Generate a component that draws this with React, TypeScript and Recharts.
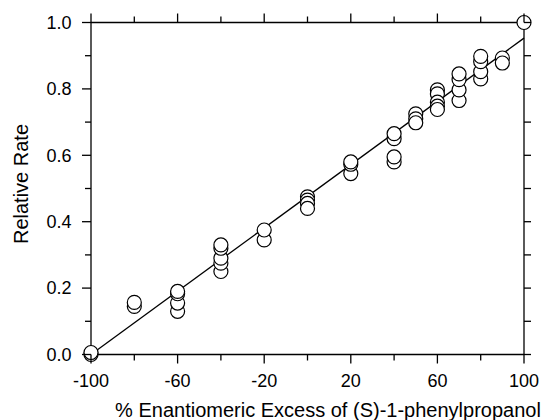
import React from 'react';
import { ScatterChart, Scatter, XAxis, YAxis, Label } from 'recharts';

// % enantiomeric excess levels (x categories)
const eeLevels = [-100, -80, -60, -40, -20, 0, 20, 40, 50, 60, 70, 80, 90, 100];
// relative rates measured at each ee level (same order as eeLevels)
const relativeRates: number[][] = [
  [0.0, 0.006],
  [0.145, 0.157],
  [0.13, 0.155, 0.183, 0.19],
  [0.25, 0.275, 0.29, 0.32, 0.33],
  [0.345, 0.375],
  [0.475, 0.465, 0.455, 0.44],
  [0.545, 0.573, 0.58],
  [0.58, 0.595, 0.65, 0.665],
  [0.725, 0.71, 0.698],
  [0.797, 0.785, 0.76, 0.748, 0.738],
  [0.765, 0.797, 0.828, 0.845],
  [0.83, 0.852, 0.882, 0.898],
  [0.893, 0.878],
  [1.0],
];
// fitted straight line
const fitX = [-100, 100];
const fitY = [0.0, 0.953];

const xTicks = [-100, -80, -60, -40, -20, 0, 20, 40, 60, 80, 100];
const xLabeled = [-100, -60, -20, 20, 60, 100];
const yTicks = [0, 0.1, 0.2, 0.3, 0.4, 0.5, 0.6, 0.7, 0.8, 0.9, 1.0];
const yLabeled = [0, 0.2, 0.4, 0.6, 0.8, 1.0];

const xTitle = '% Enantiomeric Excess of (S)-1-phenylpropanol';
const yTitle = 'Relative Rate';

const points = eeLevels.flatMap((ee, i) => relativeRates[i].map((r) => ({ x: ee, y: r })));
const fitData = fitX.map((x, i) => ({ x, y: fitY[i] }));

const FONT = '"Liberation Sans", Arial, Helvetica, sans-serif';
const INK = '#000';

function makeTick(side: 'left' | 'right' | 'top' | 'bottom', labeled: number[], showLabels: boolean, fmt: (v: number) => string) {
  return (props: any) => {
    const { x, y, payload } = props;
    const v = payload.value;
    const major = labeled.includes(v);
    const len = side === 'right' ? 7 : major ? 9 : 6;
    let line: any;
    let label: any = null;
    if (side === 'left') {
      line = <line x1={x - len} y1={y} x2={x} y2={y} stroke={INK} strokeWidth={1.3} />;
      if (showLabels && major)
        label = (
          <text x={x - 19.5} y={y} dy="0.35em" textAnchor="end" fontSize={18} fontFamily={FONT} fill={INK}>
            {fmt(v)}
          </text>
        );
    } else if (side === 'right') {
      line = <line x1={x} y1={y} x2={x + len} y2={y} stroke={INK} strokeWidth={1.3} />;
    } else if (side === 'top') {
      line = <line x1={x} y1={y} x2={x} y2={y - len} stroke={INK} strokeWidth={1.3} />;
    } else {
      line = <line x1={x} y1={y} x2={x} y2={y + len} stroke={INK} strokeWidth={1.3} />;
      if (showLabels && major)
        label = (
          <text x={x} y={y + 32.5} textAnchor="middle" fontSize={18} fontFamily={FONT} fill={INK}>
            {fmt(v)}
          </text>
        );
    }
    return (
      <g>
        {line}
        {label}
      </g>
    );
  };
}

const circleShape = (p: any) => (
  <circle cx={p.cx} cy={p.cy} r={7} fill="#fff" stroke={INK} strokeWidth={1.2} />
);
const noShape = () => <g />;

const renderXTitle = () => (
  <text x={328} y={417} textAnchor="middle" fontSize={20} fontFamily={FONT} fill={INK}>
    {xTitle}
  </text>
);
const renderYTitle = () => (
  <text
    x={28}
    y={184}
    transform="rotate(-90 28 184)"
    textAnchor="middle"
    fontSize={20}
    fontFamily={FONT}
    fill={INK}
  >
    {yTitle}
  </text>
);

export default function App() {
  const axisLine = { stroke: INK, strokeWidth: 1.3 };
  return (
    <div style={{ position: 'absolute', left: 0, top: 0, width: 543, height: 420, background: '#fff' }}>
      <ScatterChart width={543} height={420} margin={{ top: 12.5, right: 9, bottom: 25.5, left: 0 }}>
        <XAxis
          xAxisId="b"
          orientation="bottom"
          type="number"
          dataKey="x"
          domain={[-100, 100]}
          ticks={xTicks}
          interval={0}
          height={40}
          tickSize={0}
          tickMargin={0}
          tickLine={false}
          axisLine={axisLine}
          tick={makeTick('bottom', xLabeled, true, (v) => String(v))}
        >
          <Label content={renderXTitle} />
        </XAxis>
        <XAxis
          xAxisId="t"
          orientation="top"
          type="number"
          dataKey="x"
          domain={[-100, 100]}
          ticks={xTicks}
          interval={0}
          height={10}
          tickSize={0}
          tickMargin={0}
          tickLine={false}
          axisLine={axisLine}
          tick={makeTick('top', xLabeled, false, (v) => String(v))}
        />
        <YAxis
          yAxisId="l"
          orientation="left"
          type="number"
          dataKey="y"
          domain={[0, 1]}
          ticks={yTicks}
          interval={0}
          width={91}
          tickSize={0}
          tickMargin={0}
          tickLine={false}
          axisLine={axisLine}
          tick={makeTick('left', yLabeled, true, (v) => v.toFixed(1))}
        >
          <Label content={renderYTitle} />
        </YAxis>
        <YAxis
          yAxisId="r"
          orientation="right"
          type="number"
          dataKey="y"
          domain={[0, 1]}
          ticks={yTicks}
          interval={0}
          width={10}
          tickSize={0}
          tickMargin={0}
          tickLine={false}
          axisLine={axisLine}
          tick={makeTick('right', yLabeled, false, (v) => v.toFixed(1))}
        />
        <Scatter
          xAxisId="t"
          yAxisId="r"
          data={fitData}
          line={{ stroke: INK, strokeWidth: 1.3 }}
          shape={noShape}
          isAnimationActive={false}
        />
        <Scatter
          xAxisId="b"
          yAxisId="l"
          data={points}
          shape={circleShape}
          isAnimationActive={false}
        />
      </ScatterChart>
    </div>
  );
}
